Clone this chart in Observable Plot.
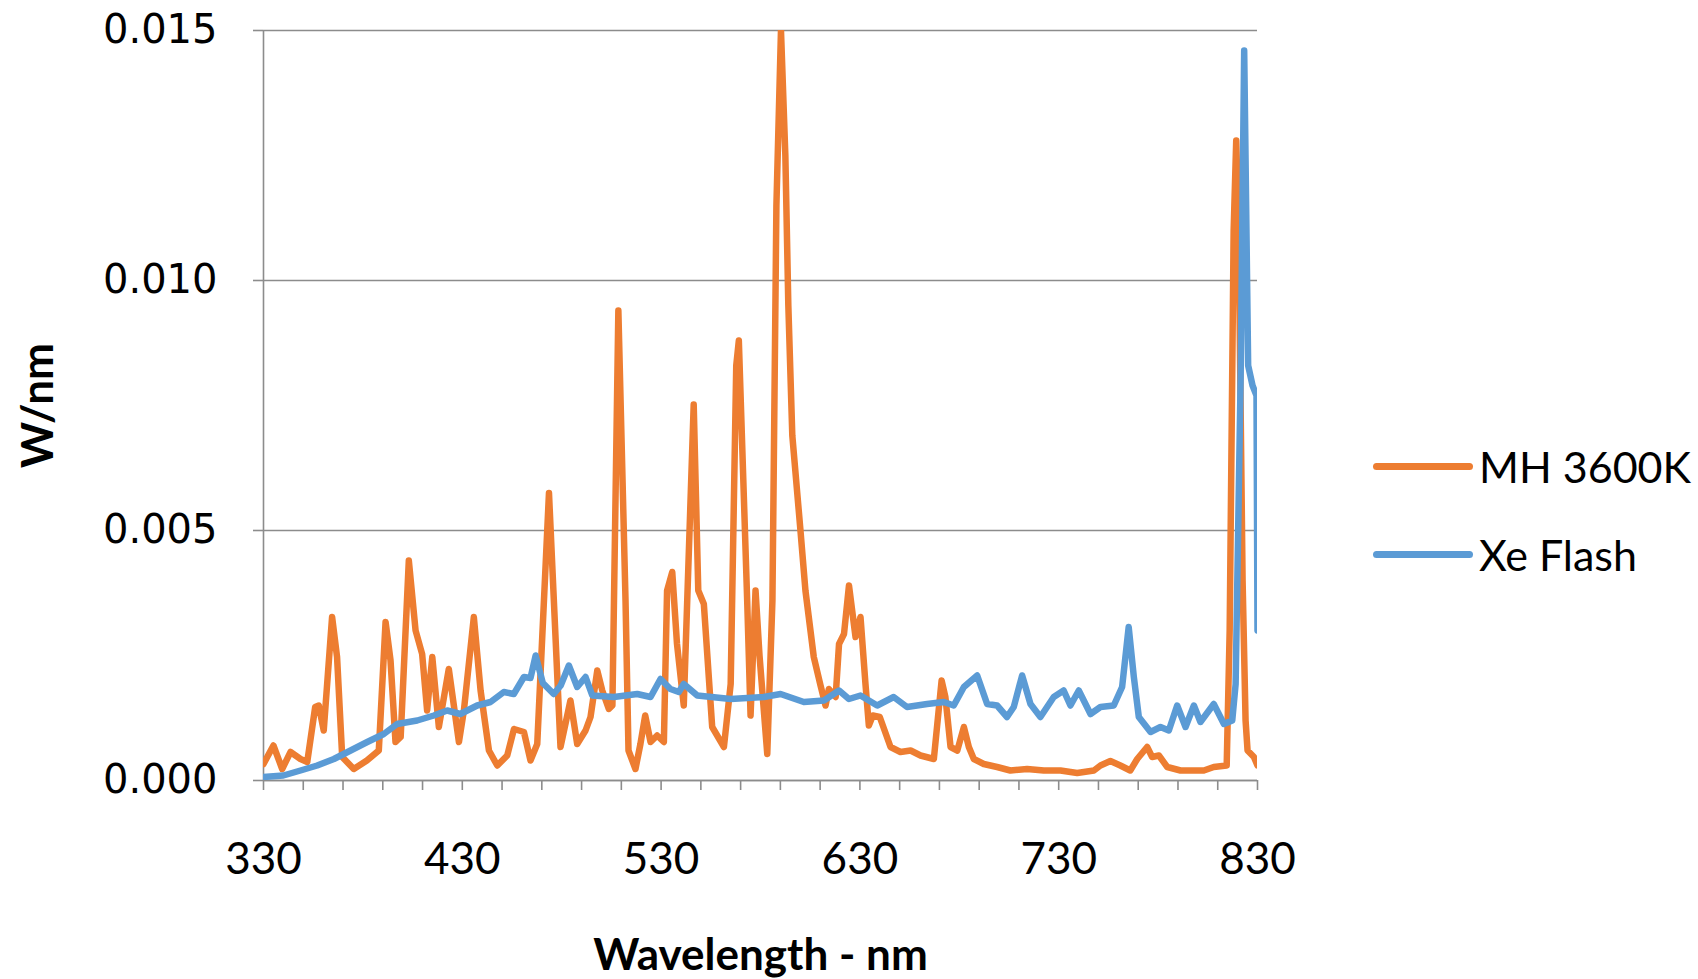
<!DOCTYPE html>
<html><head><meta charset="utf-8">
<script src="https://cdn.jsdelivr.net/npm/d3@7"></script>
<script src="https://cdn.jsdelivr.net/npm/@observablehq/plot@0.6"></script>
<style>
html,body{margin:0;padding:0;background:#fff;}
#wrap{position:relative;width:1698px;height:979px;overflow:hidden;background:#fff;}
.item{position:absolute;left:1373px;height:50px;display:flex;align-items:center;white-space:nowrap;font-family:Lato,sans-serif;font-size:43px;color:#000;}
.sw{width:100px;height:7px;border-radius:4px;margin-right:6px;}
</style></head><body><div id="wrap"></div>
<script>
const seriesNames = ["MH 3600K", "Xe Flash"];
const seriesColors = ["#ED7D31", "#5B9BD5"];

const mhWavelength = [330,335,339.4,343.6,348.6,352,356,357.8,360.3,364.5,367,369.6,375.4,382,388,391.4,393.9,396.4,399,403.1,406.5,409.8,412.3,414.9,418.2,423.2,428.3,430.8,435.8,439.2,443.4,447.6,452.6,456,461,464.3,467.7,473.6,479.4,484.4,487.8,492,494.5,497.9,500.4,503.7,505.5,508.5,512.1,513.6,517.1,519.6,522,524.7,528,531.4,533,535.6,538,541.4,546.4,548.7,551.5,555.7,561.6,565,567.8,569.1,573.3,575,577.5,579.5,583.4,586,588,590.3,592.5,594,596,600.1,602.6,606.8,610.2,612.7,614.4,617.8,619.5,622,624.5,627.8,630.3,632.8,634.5,636.5,640,645.4,650.4,655.5,660.5,667.2,671.1,673,675.6,679,682.3,684.8,687.3,692.3,699,705.7,714.1,722.5,730.9,739.3,747.7,751,756,761,766,769.5,774.5,777,780.4,784.6,791.3,803,808,814.5,816,818,819.3,820.5,822.5,824,825,828.2,830];
const mhPower = [0.00033,0.0007,0.00023,0.00057,0.00043,0.00037,0.00147,0.0015,0.001,0.00327,0.00247,0.00047,0.00023,0.0004,0.0006,0.00317,0.0024,0.00077,0.00087,0.0044,0.003,0.00253,0.0014,0.00247,0.00107,0.00223,0.00077,0.0014,0.00327,0.0018,0.0006,0.0003,0.0005,0.00103,0.00097,0.0004,0.00073,0.00575,0.00067,0.0016,0.00073,0.001,0.00127,0.0022,0.0018,0.00143,0.0015,0.0094,0.0036,0.0006,0.00023,0.00073,0.0013,0.00077,0.0009,0.00077,0.0038,0.00417,0.00273,0.0015,0.00752,0.0038,0.00353,0.00107,0.00067,0.00193,0.0083,0.0088,0.0036,0.0013,0.0038,0.0025,0.00053,0.0036,0.0115,0.015,0.0125,0.0095,0.0069,0.005,0.0038,0.00247,0.0019,0.0015,0.00183,0.00167,0.00273,0.00293,0.0039,0.00287,0.00327,0.00193,0.0011,0.0013,0.00127,0.00067,0.00057,0.0006,0.0005,0.00043,0.002,0.00167,0.00067,0.0006,0.00107,0.00067,0.00043,0.00033,0.00027,0.0002,0.00023,0.0002,0.0002,0.00015,0.0002,0.0003,0.00039,0.0003,0.0002,0.00043,0.00067,0.00047,0.0005,0.00027,0.0002,0.0002,0.00027,0.0003,0.003,0.011,0.0128,0.011,0.004,0.0012,0.0006,0.00047,0.0003];

const xeWavelength = [330,340,348.6,357,365.4,373.8,382.2,390.5,397.2,407.3,415.7,422.4,429,437.5,444.2,450.9,455.9,461,464.3,466.9,470.5,476,479.5,483.6,487.8,492,495.4,506.2,518,524.7,529.7,534.7,538.9,541.4,548.2,565,581.7,590.1,601.8,611.9,619.5,624.5,630.3,638.7,647,653.7,663.8,672.2,677.2,682.3,689,694,699,704,707.4,711.6,715.8,720.8,727.5,732.5,735.9,740.1,746,751,757.7,761.9,765.2,767.8,770.3,776.2,781.2,785.4,789.6,793.8,798,801.3,808,813.1,817.3,819,821.5,823.3,825.3,827.5,829.5,830];
const xePower = [0.00007,0.0001,0.0002,0.0003,0.00043,0.0006,0.00077,0.00093,0.00113,0.0012,0.0013,0.0014,0.00133,0.0015,0.00157,0.00177,0.00173,0.00207,0.00205,0.0025,0.00195,0.00173,0.0019,0.0023,0.00187,0.00207,0.0017,0.00167,0.00173,0.00167,0.00203,0.00183,0.00177,0.00193,0.0017,0.00163,0.00167,0.00173,0.00157,0.0016,0.0018,0.00163,0.0017,0.0015,0.00167,0.00147,0.00153,0.00157,0.0015,0.00187,0.0021,0.00153,0.0015,0.00127,0.00147,0.0021,0.00153,0.00127,0.00167,0.0018,0.0015,0.0018,0.00133,0.00147,0.0015,0.00187,0.00307,0.00207,0.00127,0.00097,0.00107,0.001,0.0015,0.00107,0.0015,0.00117,0.00153,0.00113,0.0012,0.00193,0.008,0.0146,0.0083,0.0079,0.0077,0.003];

const xTickLabels = [330, 430, 530, 630, 730, 830];
const xMinorTicks = [330,350,370,390,410,430,450,470,490,510,530,550,570,590,610,630,650,670,690,710,730,750,770,790,810,830];
const yTicks = [0, 0.005, 0.010, 0.015];
const xTitle = "Wavelength - nm";
const yTitle = "W/nm";

const mhRows = mhWavelength.map((w, i) => ({series: seriesNames[0], wl: w, p: mhPower[i]}));
const xeRows = xeWavelength.map((w, i) => ({series: seriesNames[1], wl: w, p: xePower[i]}));

const gray = "#8c8c8c";
const chart = Plot.plot({
  width: 1698, height: 979,
  marginLeft: 263, marginRight: 441, marginTop: 30, marginBottom: 199,
  x: {domain: [330, 830]},
  y: {domain: [0, 0.015]},
  color: {domain: seriesNames, range: seriesColors},
  style: {background: "#fff", fontFamily: "Lato, sans-serif", color: "#000", overflow: "visible"},
  marks: [
    Plot.gridY(yTicks, {stroke: gray, strokeOpacity: 1, strokeWidth: 1.6}),
    Plot.axisY({ticks: yTicks, tickSize: 10, tickFormat: () => "", stroke: gray, strokeWidth: 1.6, label: null}),
    Plot.axisY({ticks: yTicks, tickSize: 0, tickPadding: 46, tickFormat: d3.format(".3f"), fontSize: 40, fontFamily: "DejaVu Sans", fill: "#000", label: null}),
    Plot.axisX({ticks: xMinorTicks, tickSize: 10, tickFormat: () => "", stroke: gray, strokeWidth: 1.6, label: null}),
    Plot.axisX({ticks: xTickLabels, tickSize: 0, tickPadding: 62, tickFormat: d => String(d), fontSize: 44, fill: "#000", label: null}),
    Plot.ruleX([330], {stroke: gray, strokeWidth: 1.6}),
    Plot.ruleY([0], {stroke: gray, strokeWidth: 1.6}),
    Plot.line(mhRows, {x: "wl", y: "p", stroke: seriesColors[0], strokeWidth: 6.5, strokeLinejoin: "round", strokeLinecap: "round", clip: true}),
    Plot.line(xeRows, {x: "wl", y: "p", stroke: seriesColors[1], strokeWidth: 6.5, strokeLinejoin: "round", strokeLinecap: "round", clip: true}),
    Plot.text([yTitle], {frameAnchor: "left", dx: -225, rotate: -90, textAnchor: "middle", lineAnchor: "middle", fontSize: 44, fontWeight: "bold", fill: "#000"}),
    Plot.text([xTitle], {frameAnchor: "bottom", dy: 175, textAnchor: "middle", lineAnchor: "middle", fontSize: 44, fontWeight: "bold", fill: "#000"})
  ]
});
const wrap = document.getElementById("wrap");
wrap.appendChild(chart);
const legendTops = [441, 529];
seriesNames.forEach((name, i) => {
  const item = document.createElement("div");
  item.className = "item";
  item.style.top = legendTops[i] + "px";
  const sw = document.createElement("div");
  sw.className = "sw";
  sw.style.background = seriesColors[i];
  const label = document.createElement("span");
  label.textContent = name;
  item.appendChild(sw);
  item.appendChild(label);
  wrap.appendChild(item);
});
</script></body></html>
